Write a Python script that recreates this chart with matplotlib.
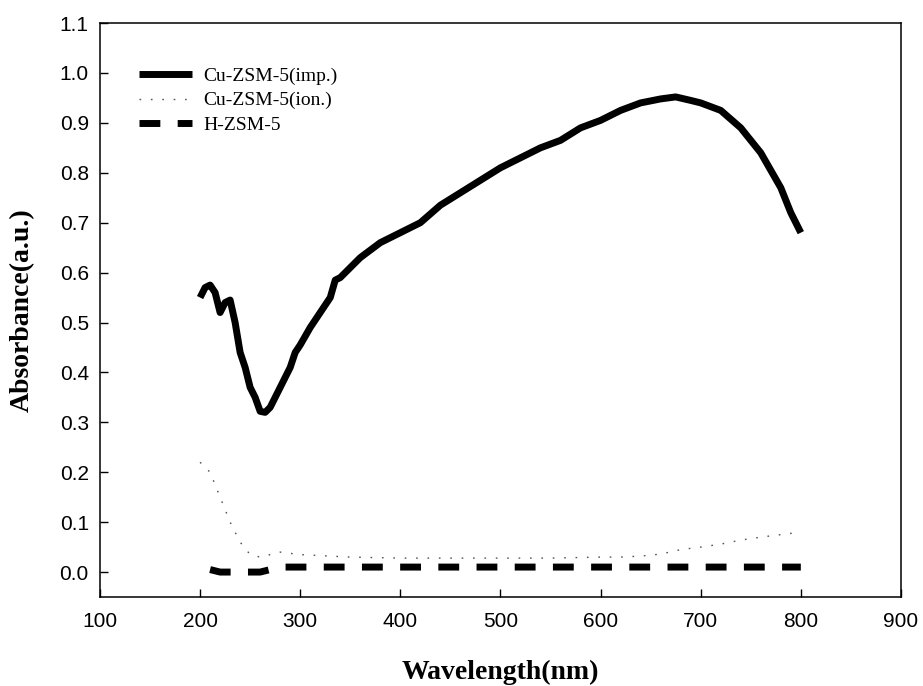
import matplotlib
matplotlib.use("Agg")
import matplotlib.pyplot as plt

imp_x = [200, 205, 210, 215, 220, 225, 230, 235, 240, 245, 250, 255, 260, 265, 270, 275, 280, 285, 290, 295, 300, 310, 320, 330, 335, 340, 350, 360, 370, 380, 390, 400, 420, 440, 460, 480, 500, 520, 540, 560, 580, 600, 620, 640, 660, 675, 690, 700, 720, 740, 760, 780, 790, 800]
imp_y = [0.55, 0.57, 0.575, 0.56, 0.52, 0.54, 0.545, 0.50, 0.44, 0.41, 0.37, 0.35, 0.322, 0.32, 0.33, 0.35, 0.37, 0.39, 0.41, 0.44, 0.455, 0.49, 0.52, 0.55, 0.585, 0.59, 0.61, 0.63, 0.645, 0.66, 0.67, 0.68, 0.70, 0.735, 0.76, 0.785, 0.81, 0.83, 0.85, 0.865, 0.89, 0.905, 0.925, 0.94, 0.948, 0.952, 0.945, 0.94, 0.925, 0.89, 0.84, 0.77, 0.72, 0.68]

ion_x = [200, 210, 220, 230, 240, 250, 260, 270, 280, 300, 350, 400, 450, 500, 550, 600, 620, 640, 660, 680, 700, 720, 740, 760, 780, 800]
ion_y = [0.22, 0.20, 0.15, 0.10, 0.06, 0.035, 0.03, 0.035, 0.04, 0.035, 0.03, 0.028, 0.028, 0.028, 0.028, 0.03, 0.03, 0.032, 0.036, 0.045, 0.05, 0.056, 0.064, 0.07, 0.075, 0.08]

h_x = [210, 220, 240, 260, 270, 280, 300, 400, 500, 600, 700, 800]
h_y = [0.005, 0.0, 0.0, 0.0, 0.005, 0.01, 0.01, 0.01, 0.01, 0.01, 0.01, 0.01]

x_ticks = list(range(100, 901, 100))
y_ticks = [i / 10 for i in range(12)]

fig = plt.figure(figsize=(9.23, 6.86), dpi=100)
ax = fig.add_axes([0.1083, 0.1297, 0.8678, 0.8367])

ax.plot(imp_x, imp_y, color='black', lw=5, solid_capstyle='butt', label='Cu-ZSM-5(imp.)')
ax.plot(ion_x, ion_y, color='#555555', lw=1.0, linestyle=(0, (1.2, 7)), label='Cu-ZSM-5(ion.)')
ax.plot(h_x, h_y, color='black', lw=5, linestyle=(0, (3, 2.5)), dash_capstyle='butt', label='H-ZSM-5')

ax.set_xlim(100, 900)
ax.set_ylim(-0.05, 1.1)
ax.set_xticks(x_ticks)
ax.set_yticks(y_ticks)
ax.set_yticklabels([f"{v:.1f}" for v in y_ticks])

for s in ax.spines.values():
    s.set_linewidth(1.1)
ax.tick_params(direction='in', length=6, width=1, labelsize=15)
ax.tick_params(axis='x', pad=11)
ax.tick_params(axis='y', pad=8)
for lab in ax.get_xticklabels() + ax.get_yticklabels():
    lab.set_fontfamily('Liberation Sans')

ax.set_xlabel('Wavelength(nm)', fontfamily='Liberation Serif', fontweight='bold', fontsize=20)
ax.set_ylabel('Absorbance(a.u.)', fontfamily='Liberation Serif', fontweight='bold', fontsize=20)
ax.xaxis.set_label_coords(0.5, -0.11)
ax.yaxis.set_label_coords(-0.081, 0.5)

leg = ax.legend(loc='upper left', bbox_to_anchor=(0.0275, 0.953), frameon=False,
                prop={'family': 'Liberation Serif', 'size': 14}, handlelength=2.7,
                labelspacing=0.34, handletextpad=0.57, borderpad=0.4)

fig.savefig('out.png', dpi=100)
